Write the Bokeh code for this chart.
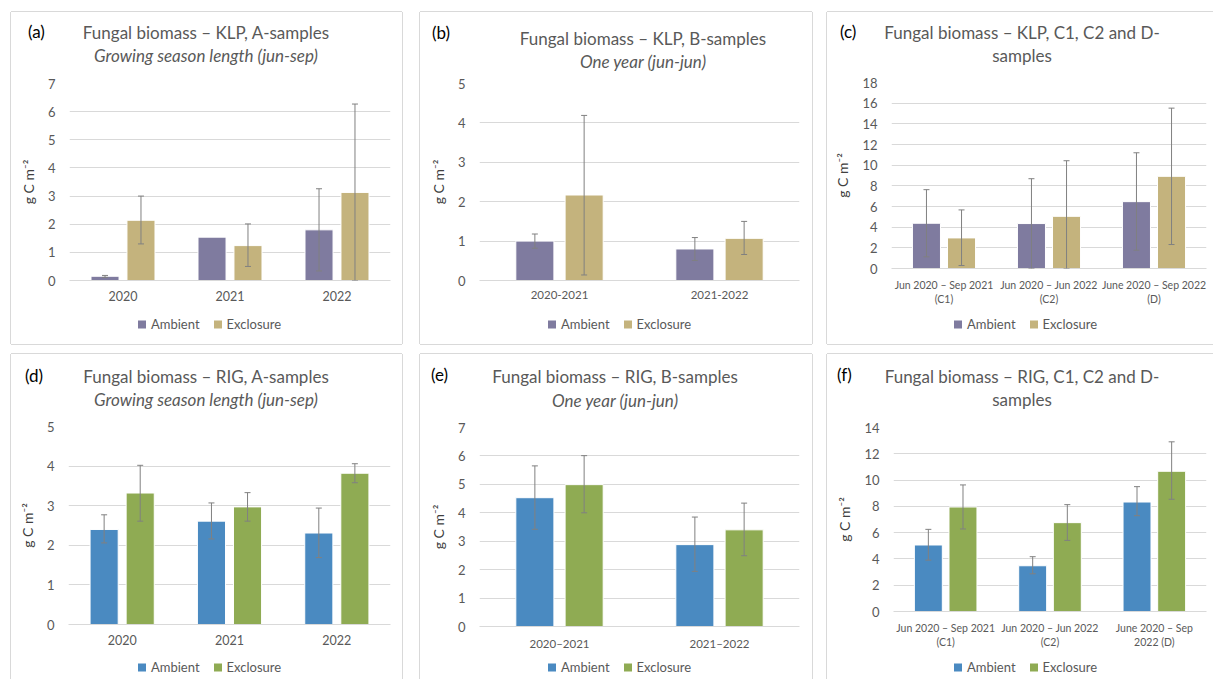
from bokeh.plotting import figure
from bokeh.models import (FactorRange, Range1d, ColumnDataSource, Whisker, TeeHead,
                          FixedTicker, Div)
from bokeh.transform import dodge
from bokeh.layouts import row, column
from bokeh.embed import file_html
from bokeh.resources import INLINE

# ---------------- data ----------------
series_names = ["Ambient", "Exclosure"]

a_cats = ["2020", "2021", "2022"]
a_amb = [0.15, 1.54, 1.80]
a_amb_lo = [0.11, None, 0.34]
a_amb_hi = [0.18, None, 3.26]
a_exc = [2.14, 1.24, 3.13]
a_exc_lo = [1.30, 0.50, 0.00]
a_exc_hi = [3.00, 2.01, 6.27]

b_cats = ["2020-2021", "2021-2022"]
b_amb = [1.00, 0.80]
b_amb_lo = [0.82, 0.51]
b_amb_hi = [1.18, 1.09]
b_exc = [2.17, 1.07]
b_exc_lo = [0.14, 0.66]
b_exc_hi = [4.19, 1.50]

c_cats = ["Jun 2020 \u2013 Sep 2021\n(C1)", "Jun 2020 \u2013 Jun 2022\n(C2)", "June 2020 \u2013 Sep 2022\n(D)"]
c_amb = [4.38, 4.35, 6.47]
c_amb_lo = [1.13, 0.00, 1.77]
c_amb_hi = [7.63, 8.69, 11.20]
c_exc = [2.96, 5.05, 8.92]
c_exc_lo = [0.29, 0.00, 2.32]
c_exc_hi = [5.67, 10.43, 15.52]

d_cats = ["2020", "2021", "2022"]
d_amb = [2.40, 2.61, 2.31]
d_amb_lo = [2.06, 2.16, 1.69]
d_amb_hi = [2.77, 3.07, 2.94]
d_exc = [3.32, 2.97, 3.82]
d_exc_lo = [2.61, 2.61, 3.58]
d_exc_hi = [4.02, 3.33, 4.06]

e_cats = ["2020\u20132021", "2021\u20132022"]
e_amb = [4.53, 2.88]
e_amb_lo = [3.42, 1.94]
e_amb_hi = [5.65, 3.85]
e_exc = [4.99, 3.40]
e_exc_lo = [4.00, 2.49]
e_exc_hi = [6.01, 4.34]

f_cats = ["Jun 2020 \u2013 Sep 2021\n(C1)", "Jun 2020 \u2013 Jun 2022\n(C2)", "June 2020 \u2013 Sep\n2022 (D)"]
f_amb = [5.06, 3.48, 8.33]
f_amb_lo = [3.91, 2.87, 7.29]
f_amb_hi = [6.25, 4.17, 9.50]
f_exc = [7.95, 6.76, 10.67]
f_exc_lo = [6.28, 5.41, 8.54]
f_exc_hi = [9.63, 8.13, 12.91]

# ---------------- style ----------------
FONT = "Lato"
GRID = "#d9d9d9"
TXT = "#595959"
ERR = "#808080"
KLP_COLORS = ["#7f7b9f", "#c4b37d"]
RIG_COLORS = ["#4a8ac1", "#8fab53"]
Y_LABEL = "g C m\u207b\u00b2"


def span(text, x, y, size, color, italic=False, align="left"):
    tr = "translate(-50%,-50%)" if align == "center" else "translate(0,-50%)"
    return ('<span style="position:absolute;left:%spx;top:%spx;transform:%s;white-space:nowrap;'
            'font-family:Lato,sans-serif;font-size:%s;color:%s;font-style:%s;line-height:1">%s</span>'
            % (x, y, tr, size, color, "italic" if italic else "normal", text))


def box_div(w, h, inner):
    html = '<div style="position:relative;width:%dpx;height:%dpx;">%s</div>' % (w, h, inner)
    return Div(text=html, width=w, height=h, margin=0)


def legend_html(x, y, colors):
    parts = []
    for i, (name, col) in enumerate(zip(series_names, colors)):
        ml = "0" if i == 0 else "14px"
        parts.append('<span style="display:inline-flex;align-items:center;margin-left:%s">'
                     '<span style="display:inline-block;width:8px;height:8px;background:%s;margin-right:5px"></span>'
                     '<span>%s</span></span>' % (ml, col, name))
    return ('<span style="position:absolute;left:%spx;top:%spx;transform:translate(0,-50%%);'
            'display:flex;align-items:center;white-space:nowrap;font-family:Lato,sans-serif;'
            'font-size:13px;color:%s;line-height:1">%s</span>' % (x, y, TXT, "".join(parts)))


def make_panel(tag, t1, t2, t2_italic, cats, amb, amb_lo, amb_hi, exc, exc_lo, exc_hi,
               ymax, ystep, colors, g):
    ox, oy, w, h = g["box"]
    fx0, fx1, fy0, fy1 = g["frame"]
    top_b = 8
    bot_b = g["xb"]
    hh = fy0 - oy - top_b
    fh = fy1 - fy0
    fig_h = top_b + fh + bot_b
    foot_h = h - hh - fig_h
    left = fx0 - ox
    fw = fx1 - fx0 + 1
    right = w - left - fw

    p = figure(x_range=FactorRange(*cats, range_padding=0), y_range=Range1d(0, ymax),
               width=w, height=fig_h, frame_width=fw, frame_height=fh,
               output_backend="svg", toolbar_location=None,
               min_border_left=left, min_border_right=right,
               min_border_top=top_b, min_border_bottom=bot_b,
               background_fill_color="white", border_fill_color="white",
               outline_line_color=None, margin=0)

    src = ColumnDataSource(dict(cat=cats, amb=amb, exc=exc))
    bw, off = g["bar"]
    p.vbar(x=dodge("cat", -off, range=p.x_range), top="amb", width=bw, source=src,
           fill_color=colors[0], line_color="white", line_width=1)
    p.vbar(x=dodge("cat", off, range=p.x_range), top="exc", width=bw, source=src,
           fill_color=colors[1], line_color="white", line_width=1)

    for vals_lo, vals_hi, o in ((amb_lo, amb_hi, -off), (exc_lo, exc_hi, off)):
        cc, lo, hi = [], [], []
        for c, l, u in zip(cats, vals_lo, vals_hi):
            if l is None or u is None:
                continue
            cc.append(c); lo.append(l); hi.append(u)
        es = ColumnDataSource(dict(cat=cc, lo=lo, hi=hi))
        wk = Whisker(base=dodge("cat", o, range=p.x_range), upper="hi", lower="lo", source=es,
                     line_color=ERR, line_width=1, level="overlay",
                     upper_head=TeeHead(size=6, line_color=ERR, line_width=1),
                     lower_head=TeeHead(size=6, line_color=ERR, line_width=1))
        p.add_layout(wk)

    p.xgrid.grid_line_color = None
    p.ygrid.grid_line_color = GRID
    p.yaxis.ticker = FixedTicker(ticks=list(range(0, ymax + 1, ystep)))
    p.yaxis.axis_line_color = None
    p.yaxis.major_tick_line_color = None
    p.yaxis.minor_tick_line_color = None
    p.yaxis.major_tick_out = 0
    p.yaxis.major_tick_in = 0
    p.yaxis.minor_tick_out = 0
    p.yaxis.major_label_standoff = 14
    p.yaxis.major_label_text_font = FONT
    p.yaxis.major_label_text_font_size = "13px"
    p.yaxis.major_label_text_color = TXT
    p.yaxis.axis_label = Y_LABEL
    p.yaxis.axis_label_standoff = 8
    p.yaxis.axis_label_text_font = FONT
    p.yaxis.axis_label_text_font_size = "14px"
    p.yaxis.axis_label_text_font_style = "normal"
    p.yaxis.axis_label_text_color = "#404040"
    p.xaxis.axis_line_color = GRID
    p.xaxis.major_tick_line_color = None
    p.xaxis.minor_tick_line_color = None
    p.xaxis.major_tick_out = 0
    p.xaxis.major_tick_in = 0
    p.xaxis.minor_tick_out = 0
    p.xaxis.major_label_standoff = 10
    p.xaxis.major_label_text_font = FONT
    p.xaxis.major_label_text_font_size = g["xfs"]
    p.xaxis.major_label_text_color = TXT

    tx, ty = g["tag"]
    cx, y1, y2 = g["title"]
    head = box_div(w, hh,
                   span(tag, tx - ox, ty - oy, "17px", "#000000")
                   + span(t1, cx - ox, y1 - oy, "17px", TXT, align="center")
                   + span(t2, cx - ox, y2 - oy, "17px", TXT, italic=t2_italic, align="center"))
    gx, gy = g["legend"]
    foot_top = oy + hh + fig_h
    foot = box_div(w, foot_h, legend_html(gx - ox, gy - foot_top, colors))
    return column(head, p, foot, margin=0, spacing=0)


def shadow(sides):
    parts = []
    if "t" in sides:
        parts.append("0 -1px 0 0 " + GRID)
    if "l" in sides:
        parts.append("-1px 0 0 0 " + GRID)
    if "r" in sides:
        parts.append("1px 0 0 0 " + GRID)
    if "b" in sides:
        parts.append("0 1px 0 0 " + GRID)
    return {"box-shadow": ", ".join(parts)}


pa = make_panel("(a)", "Fungal biomass \u2013 KLP, A-samples", "Growing season length (jun-sep)", True,
                a_cats, a_amb, a_amb_lo, a_amb_hi, a_exc, a_exc_lo, a_exc_hi, 7, 1, KLP_COLORS,
                dict(box=(11, 12, 391, 332), frame=(69, 389, 83, 280), bar=(0.262, 0.168), xb=30,
                     xfs="12.5px", tag=(28, 31), title=(206, 32, 55), legend=(138, 324)))
pb = make_panel("(b)", "Fungal biomass \u2013 KLP, B-samples", "One year (jun-jun)", True,
                b_cats, b_amb, b_amb_lo, b_amb_hi, b_exc, b_exc_lo, b_exc_hi, 5, 1, KLP_COLORS,
                dict(box=(420, 12, 392, 332), frame=(479, 798, 83, 280), bar=(0.238, 0.154), xb=30,
                     xfs="11.5px", tag=(432, 32), title=(643, 38, 61), legend=(548, 324)))
pc = make_panel("(c)", "Fungal biomass \u2013 KLP, C1, C2 and D-", "samples", False,
                c_cats, c_amb, c_amb_lo, c_amb_hi, c_exc, c_exc_lo, c_exc_hi, 18, 2, KLP_COLORS,
                dict(box=(827, 12, 386, 332), frame=(891, 1205, 82, 268), bar=(0.267, 0.167), xb=44,
                     xfs="10.5px", tag=(840, 31), title=(1022, 32, 55), legend=(954, 324)))
pd_ = make_panel("(d)", "Fungal biomass \u2013 RIG, A-samples", "Growing season length (jun-sep)", True,
                 d_cats, d_amb, d_amb_lo, d_amb_hi, d_exc, d_exc_lo, d_exc_hi, 5, 1, RIG_COLORS,
                 dict(box=(11, 354, 391, 325), frame=(68, 389, 426, 624), bar=(0.262, 0.168), xb=30,
                      xfs="12.5px", tag=(25, 375), title=(206, 376, 399), legend=(138, 667)))
pe = make_panel("(e)", "Fungal biomass \u2013 RIG, B-samples", "One year (jun-jun)", True,
                e_cats, e_amb, e_amb_lo, e_amb_hi, e_exc, e_exc_lo, e_exc_hi, 7, 1, RIG_COLORS,
                dict(box=(420, 354, 392, 325), frame=(479, 798, 427, 626), bar=(0.238, 0.154), xb=28,
                     xfs="11.5px", tag=(431, 374), title=(615, 376, 400), legend=(548, 667)))
pf = make_panel("(f)", "Fungal biomass \u2013 RIG, C1, C2 and D-", "samples", False,
                f_cats, f_amb, f_amb_lo, f_amb_hi, f_exc, f_exc_lo, f_exc_hi, 14, 2, RIG_COLORS,
                dict(box=(827, 354, 386, 325), frame=(893, 1205, 427, 611), bar=(0.268, 0.166), xb=44,
                     xfs="10.5px", tag=(837, 374), title=(1022, 376, 399), legend=(954, 667)))

pa.styles = shadow("tlrb")
pb.styles = shadow("tlrb")
pc.styles = shadow("tlb")
pd_.styles = shadow("tlr")
pe.styles = shadow("tlr")
pf.styles = shadow("tl")

pb.margin = (0, 0, 0, 18)
pc.margin = (0, 0, 0, 15)
pe.margin = (0, 0, 0, 18)
pf.margin = (0, 0, 0, 15)

r1 = row(pa, pb, pc, margin=0, spacing=0)
r2 = row(pd_, pe, pf, margin=(10, 0, 0, 0), spacing=0)
layout = column(r1, r2, margin=(12, 0, 0, 11), spacing=0)

open("out.html", "w").write(file_html(layout, INLINE))
